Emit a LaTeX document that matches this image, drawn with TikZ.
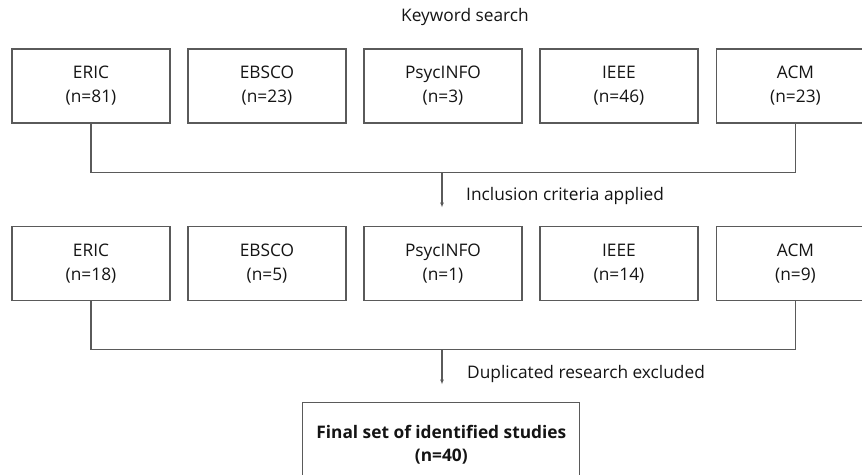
\documentclass[tikz,border=0pt]{standalone}
\usepackage{fontspec}
\setmainfont{Open Sans}
\usetikzlibrary{arrows.meta}
\definecolor{linegray}{RGB}{90,90,90}
\definecolor{txt}{RGB}{20,20,20}
\tikzset{
  dbbox/.style={draw=linegray, line width=1.2pt, minimum width=158pt, minimum height=74pt,
    inner sep=0pt, align=center, font=\fontsize{17.3}{24}\selectfont, text=txt},
  finalbox/.style={draw=linegray, line width=1.2pt, minimum width=277pt, minimum height=84pt,
    inner sep=0pt, align=center, font=\fontsize{17.3}{23.5}\selectfont\bfseries, text=txt},
  lbl/.style={font=\fontsize{17.3}{20}\selectfont, text=txt, inner sep=0pt},
  conn/.style={draw=linegray, line width=1.2pt},
  arr/.style={draw=linegray, line width=1.2pt, -{Latex[length=5pt,width=4pt]}}
}
\begin{document}
\begin{tikzpicture}[x=1pt, y=-1pt]
\useasboundingbox (0,0) rectangle (862,474);
\clip (0,0) rectangle (862,474);
\node[lbl] (kw) at (465,17) {Keyword search};
% row 1
\node[dbbox] (a1) at (91,86) {ERIC\\(n=81)};
\node[dbbox] (a2) at (267,86) {EBSCO\\(n=23)};
\node[dbbox] (a3) at (443,86) {PsycINFO\\(n=3)};
\node[dbbox] (a4) at (619,86) {IEEE\\(n=46)};
\node[dbbox] (a5) at (795.5,86) {ACM\\(n=23)};
% row 2
\node[dbbox] (b1) at (91,263.5) {ERIC\\(n=18)};
\node[dbbox] (b2) at (267,263.5) {EBSCO\\(n=5)};
\node[dbbox] (b3) at (443,263.5) {PsycINFO\\(n=1)};
\node[dbbox] (b4) at (619,263.5) {IEEE\\(n=14)};
\node[dbbox] (b5) at (795.5,263.5) {ACM\\(n=9)};
% final
\node[finalbox] (f) at (441.3,444.7) {Final set of identified studies\\(n=40)};
% connectors row 1
\coordinate (j1) at (442,172.7);
\coordinate (e1) at (442,207.5);
\draw[conn] (a1.south) -- (a1.south |- j1) -- (a5.south |- j1) -- (a5.south);
\draw[arr] (j1) -- (e1);
\node[lbl, anchor=west] (t1) at (466,195.7) {Inclusion criteria applied};
% connectors row 2
\coordinate (j2) at (442,349.7);
\coordinate (e2) at (442,384.5);
\draw[conn] (b1.south) -- (b1.south |- j2) -- (b5.south |- j2) -- (b5.south);
\draw[arr] (j2) -- (e2);
\node[lbl, anchor=west] (t2) at (467,373.7) {Duplicated research excluded};
\end{tikzpicture}
\end{document}
